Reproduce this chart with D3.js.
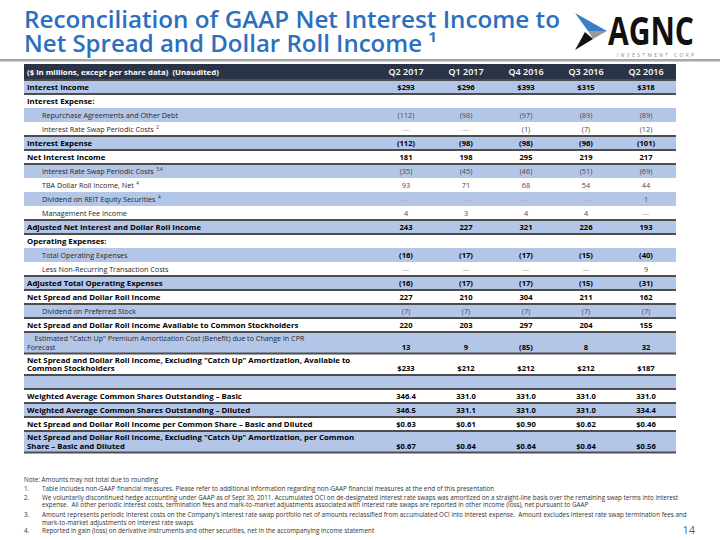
<!DOCTYPE html>
<html><head><meta charset="utf-8">
<script src="https://cdn.jsdelivr.net/npm/d3@7"></script>
<style>
html,body{margin:0;padding:0;background:#fff;}
svg text{font-family:"Open Sans","Noto Sans",sans-serif;}
</style></head>
<body><div id="chart"></div>
<script>
const titleLines = ["Reconciliation of GAAP Net Interest Income to", "Net Spread and Dollar Roll Income \u00B9"];
const headerLabel = "($ in millions, except per share data)  (Unaudited)";
const columns = ["Q2 2017", "Q1 2017", "Q4 2016", "Q3 2016", "Q2 2016"];
const rowLabels = [
  "Interest Income",
  "Interest Expense:",
  "Repurchase Agreements and Other Debt",
  "Interest Rate Swap Periodic Costs",
  "Interest Expense",
  "Net Interest Income",
  "Interest Rate Swap Periodic Costs",
  "TBA Dollar Roll Income, Net",
  "Dividend on REIT Equity Securities",
  "Management Fee Income",
  "Adjusted Net Interest and Dollar Roll Income",
  "Operating Expenses:",
  "Total Operating Expenses",
  "Less Non-Recurring Transaction Costs",
  "Adjusted Total Operating Expenses",
  "Net Spread and Dollar Roll Income",
  "Dividend on Preferred Stock",
  "Net Spread and Dollar Roll Income Available to Common Stockholders",
  "    Estimated \"Catch Up\" Premium Amortization Cost (Benefit) due to Change in CPR|Forecast",
  "Net Spread and Dollar Roll Income, Excluding \"Catch Up\" Amortization, Available to|Common Stockholders",
  "",
  "Weighted Average Common Shares Outstanding \u2013 Basic",
  "Weighted Average Common Shares Outstanding \u2013 Diluted",
  "Net Spread and Dollar Roll Income per Common Share \u2013 Basic and Diluted",
  "Net Spread and Dollar Roll Income, Excluding \"Catch Up\" Amortization, per Common|Share \u2013 Basic and Diluted"
];
const rowNotes = ["","","","2","","","3,4","4","4","","","","","","","","","","","","","","","",""];
// total = bold with rules, section = bold header, item = indented, itemB = indented with bold values, wrap = hanging two-line item, blank
const rowKinds = ["total","section","item","item","total","total","item","item","item","item","total","section","itemB","item","total","total","item","total","wrap","total","blank","total","total","total","total"];
const q2_2017 = ["$293","","(112)","\u2014","(112)","181","(35)","93","\u2014","4","243","","(16)","\u2014","(16)","227","(7)","220","13","$233","","346.4","346.5","$0.63","$0.67"];
const q1_2017 = ["$296","","(98)","\u2014","(98)","198","(45)","71","\u2014","3","227","","(17)","\u2014","(17)","210","(7)","203","9","$212","","331.0","331.1","$0.61","$0.64"];
const q4_2016 = ["$393","","(97)","(1)","(98)","295","(46)","68","\u2014","4","321","","(17)","\u2014","(17)","304","(7)","297","(85)","$212","","331.0","331.0","$0.90","$0.64"];
const q3_2016 = ["$315","","(89)","(7)","(96)","219","(51)","54","\u2014","4","226","","(15)","\u2014","(15)","211","(7)","204","8","$212","","331.0","331.0","$0.62","$0.64"];
const q2_2016 = ["$318","","(89)","(12)","(101)","217","(69)","44","1","\u2014","193","","(40)","9","(31)","162","(7)","155","32","$187","","331.0","334.4","$0.46","$0.56"];
const footNote = "Note: Amounts may not total due to rounding";
const footnotes = [
  ["Table includes non-GAAP financial measures. Please refer to additional information regarding non-GAAP financial measures at the end of this presentation"],
  ["We voluntarily discontinued hedge accounting under GAAP as of Sept 30, 2011. Accumulated OCI on de-designated interest rate swaps was amortized on a straight-line basis over the remaining swap terms into interest",
   "expense.  All other periodic interest costs, termination fees and mark-to-market adjustments associated with interest rate swaps are reported in other income (loss), net pursuant to GAAP"],
  ["Amount represents periodic interest costs on the Company\u2019s interest rate swap portfolio net of amounts reclassified from accumulated OCI into interest expense.  Amount excludes interest rate swap termination fees and",
   "mark-to-market adjustments on interest rate swaps"],
  ["Reported in gain (loss) on derivative instruments and other securities, net in the accompanying income statement"]
];
const pageNumber = "14";

const series = [q2_2017, q1_2017, q4_2016, q3_2016, q2_2016];
const W = 720, H = 540;
const svg = d3.select("#chart").append("svg").attr("width", W).attr("height", H);

const BLUE = "#b4c6e8", DARK = "#2b3446", TITLE = "#2a6fc0";

// title
svg.append("g").selectAll("text").data(titleLines).join("text")
  .attr("x", 24).attr("y", (d, i) => 28 + i * 24)
  .attr("fill", TITLE).attr("font-size", 23).attr("font-weight", 600)
  .attr("textLength", (d, i) => i === 0 ? 536 : 413).attr("lengthAdjust", "spacingAndGlyphs")
  .text(d => d);

// logo
const logo = svg.append("g");
logo.append("path").attr("d", "M575,13 L607,31 L588,31 Z").attr("fill", "#3b7ec3");
logo.append("path").attr("d", "M588,31 L607,31 L593,39 Z").attr("fill", "#9a9a9a");
logo.append("path").attr("d", "M575,50 L585,32 L593,39 Z").attr("fill", "#111");
logo.append("text").attr("x", 608).attr("y", 45).attr("font-size", 40).attr("font-weight", 700)
  .attr("font-family", "'Liberation Sans Narrow','Roboto','Open Sans',sans-serif")
  .attr("fill", "#111").attr("textLength", 86).attr("lengthAdjust", "spacingAndGlyphs").text("AGNC");
logo.append("text").attr("x", 617).attr("y", 56.5).attr("font-size", 4.8).attr("fill", "#888")
  .attr("textLength", 77).attr("lengthAdjust", "spacing").text("INVESTMENT CORP");

// divider
svg.append("rect").attr("x", 0).attr("y", 59).attr("width", 720).attr("height", 2.5).attr("fill", "#a6a6a6");

// table geometry
const tableX0 = 24, tableX1 = 676;
const x = d3.scaleBand().domain(columns).range([376, 676]);
const headerTop = 64, headerH = 16;
const rowHeights = rowLabels.map(l => 14 + (l.split("|").length - 1) * 7.5);
const rowTops = [];
let acc = headerTop + headerH;
rowHeights.forEach(h => { rowTops.push(acc); acc += h; });

// header
svg.append("rect").attr("x", tableX0).attr("y", headerTop).attr("width", tableX1 - tableX0).attr("height", headerH).attr("fill", DARK);
svg.append("text").attr("x", 27).attr("y", headerTop + 10.8).attr("fill", "#fff").attr("font-size", 7.8).attr("font-weight", 700)
  .attr("xml:space", "preserve").text(headerLabel);
svg.append("g").selectAll("text").data(columns).join("text")
  .attr("x", d => x(d) + x.bandwidth() / 2).attr("y", headerTop + 11.3).attr("text-anchor", "middle")
  .attr("fill", "#fff").attr("font-size", 9).attr("font-weight", 600).text(d => d);

// row backgrounds
const rows = svg.append("g").selectAll("g").data(rowLabels).join("g");
rows.append("rect").attr("x", tableX0).attr("y", (d, i) => rowTops[i]).attr("width", tableX1 - tableX0)
  .attr("height", (d, i) => rowHeights[i]).attr("fill", (d, i) => i % 2 === 0 ? BLUE : "#fff");

// labels and values
rows.each(function(label, i) {
  const kind = rowKinds[i];
  const g = d3.select(this);
  const lines = label.split("|");
  const bold = kind === "total" || kind === "section";
  const indent = (kind === "item" || kind === "itemB") ? 42 : 27;
  const multi = lines.length > 1;
  lines.forEach((ln, j) => {
    const t = g.append("text")
      .attr("x", indent).attr("y", rowTops[i] + (multi ? 9.3 + j * 8.5 : 10))
      .attr("font-size", bold ? 7.8 : 7.2).attr("font-weight", bold ? 700 : 400)
      .attr("fill", bold ? "#000" : "#262626").attr("xml:space", "preserve")
      .text(ln);
    if (rowNotes[i] && j === lines.length - 1) {
      t.append("tspan").attr("font-size", 4.6).attr("dx", 2.5).attr("dy", -2.8).text(rowNotes[i]);
    }
  });
  series.forEach((s, c) => {
    const v = s[i];
    if (!v) return;
    const dash = v === "\u2014";
    const vb = kind === "total" || kind === "itemB" || kind === "wrap";
    g.append("text")
      .attr("x", x(columns[c]) + x.bandwidth() / 2)
      .attr("y", rowTops[i] + (multi ? 17.8 : 10))
      .attr("text-anchor", "middle")
      .attr("font-size", vb ? 7.6 : 7.3).attr("font-weight", vb && !dash ? 700 : 400)
      .attr("fill", dash ? "#b0b0b0" : (vb ? "#000" : "#4a4a4a"))
      .text(v);
  });
});

// rules around total rows
const ruleYs = new Set();
rowKinds.forEach((k, i) => { if (k === "total") { ruleYs.add(rowTops[i]); ruleYs.add(rowTops[i] + rowHeights[i]); } });
svg.append("g").selectAll("rect").data([...ruleYs]).join("rect")
  .attr("x", tableX0).attr("y", d => d - 1).attr("width", tableX1 - tableX0).attr("height", 2)
  .attr("fill", "#4d4d4d");

// footnotes
const fn = svg.append("g").attr("font-size", 6.3).attr("fill", "#333");
fn.append("text").attr("x", 24).attr("y", 482).text(footNote);
const fnY = [491, 499.5, 517, 533];
footnotes.forEach((lines, i) => {
  fn.append("text").attr("x", 24).attr("y", fnY[i]).text((i + 1) + ".");
  lines.forEach((ln, j) => fn.append("text").attr("x", 42).attr("y", fnY[i] + j * 7.8).attr("xml:space", "preserve").text(ln));
});
svg.append("text").attr("x", 695).attr("y", 534).attr("text-anchor", "end").attr("font-size", 11)
  .attr("fill", TITLE).text(pageNumber);
</script></body></html>
